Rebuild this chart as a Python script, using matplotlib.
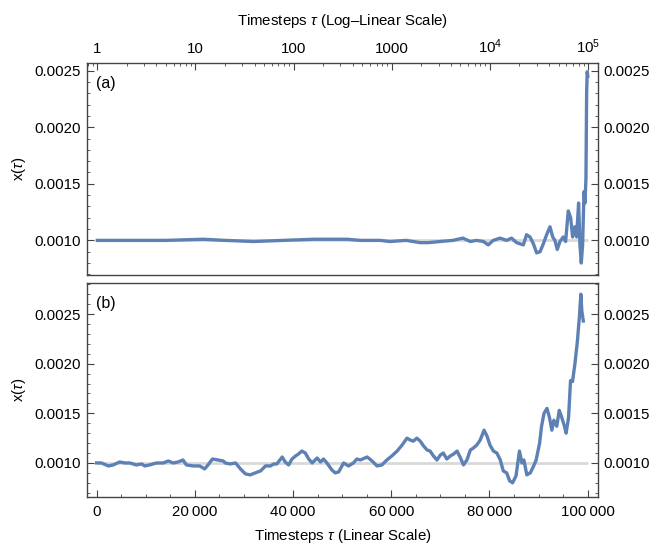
import matplotlib
matplotlib.use("Agg")
import matplotlib.pyplot as plt
from matplotlib.ticker import FixedLocator, FixedFormatter, LogLocator, MultipleLocator, NullFormatter

plt.rcParams['font.family'] = ['Liberation Sans', 'DejaVu Sans']
plt.rcParams['mathtext.fontset'] = 'custom'
plt.rcParams['mathtext.rm'] = 'Liberation Sans'
plt.rcParams['mathtext.it'] = 'Liberation Sans:italic'

# panel (a): log-spaced samples
tau_log = [1, 2, 5, 12, 20, 39, 78, 160, 350, 480,
           760, 960, 1400, 1950, 2350, 3100, 4200, 5300, 6300, 7300,
           8600, 9600, 10800, 12700, 14800, 16600, 18700, 21900, 23600, 25600,
           27700, 29900, 32400, 35000, 37800, 40900, 43600, 45900, 48500, 51700,
           55800, 59000, 62800, 66400, 69500, 73400, 76400, 80000, 82600, 85200,
           87900, 90800, 93000, 95100, 96600, 97900, 99300]
x_log = [0.00100, 0.00100, 0.00100, 0.00101, 0.00100, 0.00099, 0.00100, 0.00101, 0.00101, 0.00100,
         0.00100, 0.00099, 0.00100, 0.00098, 0.00098, 0.00099, 0.00100, 0.00102, 0.00099, 0.00100,
         0.00099, 0.00096, 0.00100, 0.00102, 0.00100, 0.00102, 0.00098, 0.00096, 0.00105, 0.00103,
         0.00097, 0.00089, 0.00090, 0.00097, 0.00105, 0.00112, 0.00103, 0.00100, 0.00092, 0.00099,
         0.00103, 0.00099, 0.00126, 0.00120, 0.00103, 0.00112, 0.00103, 0.00133, 0.00096, 0.00080,
         0.00096, 0.00143, 0.00133, 0.00155, 0.00230, 0.00249, 0.00245]

# panel (b): samples
tau_lin = [0, 1000, 2400, 3400, 4700, 5800, 6800, 8100, 9200, 9800,
           10800, 12200, 13600, 14600, 15600, 16600, 17600, 18300, 19700, 21000,
           22000, 22700, 23600, 24700, 25800, 26200, 27200, 28300, 29300, 30300,
           31300, 32300, 33400, 34400, 35400, 36100, 36700, 37800, 38400, 39100,
           39800, 40500, 41100, 41800, 42500, 43200, 43900, 44900, 45600, 46200,
           46900, 47900, 48600, 49300, 50300, 51300, 52300, 53000, 53700, 55100,
           56100, 57100, 58100, 59100, 60100, 61200, 62200, 63200, 63900, 64500,
           65200, 65900, 66600, 67300, 67900, 68600, 69300, 70000, 70600, 71300,
           72000, 72700, 73400, 74100, 74700, 75400, 76100, 76700, 77400, 78100,
           78900, 79500, 80100, 80800, 81500, 82200, 82800, 83500, 84100, 84700,
           85400, 86100, 86600, 87000, 87600, 88300, 88900, 89500, 90200, 90600,
           91100, 91700, 92200, 92700, 93100, 93700, 94200, 94700, 95200, 95600,
           96100, 96500, 96900, 97400, 97900, 98300, 98600, 98800, 99100]
x_lin = [0.00100, 0.00100, 0.00097, 0.00098, 0.00101, 0.00100, 0.00100, 0.00098, 0.00099, 0.00097,
         0.00098, 0.00100, 0.00100, 0.00102, 0.00100, 0.00101, 0.00103, 0.00098, 0.00097, 0.00097,
         0.00094, 0.00098, 0.00104, 0.00103, 0.00102, 0.00100, 0.00099, 0.00100, 0.00094, 0.00089,
         0.00088, 0.00090, 0.00092, 0.00097, 0.00097, 0.00099, 0.00099, 0.00106, 0.00101, 0.00098,
         0.00104, 0.00107, 0.00109, 0.00112, 0.00110, 0.00104, 0.00100, 0.00105, 0.00101, 0.00104,
         0.00100, 0.00093, 0.00090, 0.00091, 0.00100, 0.00097, 0.00100, 0.00104, 0.00103, 0.00106,
         0.00102, 0.00097, 0.00098, 0.00103, 0.00107, 0.00112, 0.00118, 0.00125, 0.00123, 0.00122,
         0.00125, 0.00122, 0.00117, 0.00113, 0.00112, 0.00107, 0.00103, 0.00108, 0.00110, 0.00104,
         0.00107, 0.00109, 0.00112, 0.00105, 0.00098, 0.00103, 0.00113, 0.00115, 0.00118, 0.00123,
         0.00133, 0.00127, 0.00118, 0.00112, 0.00110, 0.00103, 0.00092, 0.00090, 0.00082, 0.00080,
         0.00087, 0.00112, 0.00100, 0.00103, 0.00088, 0.00090, 0.00096, 0.00103, 0.00120, 0.00137,
         0.00150, 0.00155, 0.00146, 0.00133, 0.00143, 0.00137, 0.00153, 0.00146, 0.00138, 0.00130,
         0.00146, 0.00183, 0.00182, 0.00200, 0.00223, 0.00247, 0.00270, 0.00253, 0.00243]

x0 = 0.001
ytick_vals = [0.0010, 0.0015, 0.0020, 0.0025]
ytick_labels = ['0.0010', '0.0015', '0.0020', '0.0025']
log_ticks = [1, 10, 100, 1000, 1e4, 1e5]
log_labels = ['1', '10', '100', '1000', '$10^4$', '$10^5$']
lin_ticks = [0, 20000, 40000, 60000, 80000, 100000]
lin_labels = ['0', '20\u2009000', '40\u2009000', '60\u2009000', '80\u2009000', '100\u2009000']

blue = '#5e81b5'
frame = '#444444'
fs = 10.8

fig = plt.figure(figsize=(6.63, 5.45), dpi=100)
ax1 = fig.add_axes([0.1308, 0.496, 0.7716, 0.389])
ax2 = fig.add_axes([0.1308, 0.0886, 0.7716, 0.3916])


def style_y(ax):
    ax.yaxis.set_major_locator(FixedLocator(ytick_vals))
    ax.yaxis.set_major_formatter(FixedFormatter(ytick_labels))
    ax.yaxis.set_minor_locator(MultipleLocator(0.0001))
    ax.tick_params(axis='y', which='both', direction='in', left=True, right=True,
                   labelleft=True, labelright=True, labelsize=fs, color=frame, pad=4)
    ax.tick_params(axis='y', which='major', length=5)
    ax.tick_params(axis='y', which='minor', length=2.5)
    for s in ax.spines.values():
        s.set_color(frame)
        s.set_linewidth(1.0)
    ax.set_ylabel('x($\\it{\u03c4}$)', fontsize=fs, labelpad=5)


# (a) log-linear
ax1.hlines(x0, 1, 1e5, color='#d9d9d9', lw=2, zorder=1)
ax1.plot(tau_log, x_log, color=blue, lw=2.4, zorder=2)
ax1.set_xscale('log')
ax1.set_xlim(0.78, 1.27e5)
ax1.set_ylim(0.000697, 0.00257)
ax1.xaxis.tick_top()
ax1.xaxis.set_label_position('top')
ax1.xaxis.set_major_locator(FixedLocator(log_ticks))
ax1.xaxis.set_major_formatter(FixedFormatter(log_labels))
ax1.xaxis.set_minor_locator(LogLocator(base=10, subs=range(2, 10), numticks=20))
ax1.xaxis.set_minor_formatter(NullFormatter())
ax1.tick_params(axis='x', which='both', direction='in', top=True, bottom=False,
                labelsize=fs, color=frame, pad=5)
ax1.tick_params(axis='x', which='major', length=5)
ax1.tick_params(axis='x', which='minor', length=2.5)
ax1.set_xlabel('Timesteps $\\it{\u03c4}$ (Log\u2013Linear Scale)', fontsize=fs, labelpad=9)
style_y(ax1)
ax1.text(0.018, 0.9, '(a)', transform=ax1.transAxes, fontsize=11.5, va='center')

# (b) linear
ax2.hlines(x0, 0, 100000, color='#d9d9d9', lw=2, zorder=1)
ax2.plot(tau_lin, x_lin, color=blue, lw=2.4, zorder=2)
ax2.set_xlim(-2000, 102150)
ax2.set_ylim(0.00066, 0.00281)
ax2.xaxis.set_major_locator(FixedLocator(lin_ticks))
ax2.xaxis.set_major_formatter(FixedFormatter(lin_labels))
ax2.xaxis.set_minor_locator(MultipleLocator(5000))
ax2.tick_params(axis='x', which='both', direction='in', top=False, bottom=True,
                labelsize=fs, color=frame, pad=6)
ax2.tick_params(axis='x', which='major', length=5)
ax2.tick_params(axis='x', which='minor', length=2.5)
ax2.set_xlabel('Timesteps $\\it{\u03c4}$ (Linear Scale)', fontsize=fs, labelpad=6)
style_y(ax2)
ax2.text(0.018, 0.907, '(b)', transform=ax2.transAxes, fontsize=11.5, va='center')

fig.savefig('out.png', dpi=100)
